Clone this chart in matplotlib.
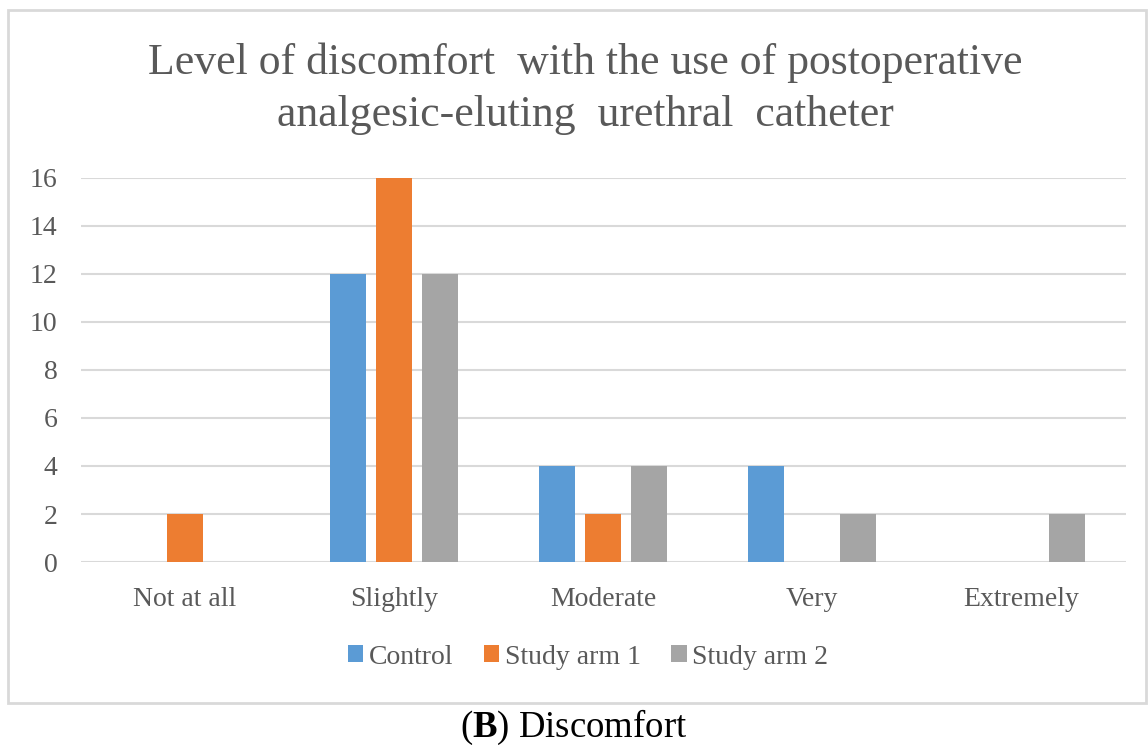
import matplotlib
matplotlib.use("Agg")
import matplotlib.pyplot as plt
from matplotlib.patches import Rectangle
import numpy as np

categories = ["Not at all", "Slightly", "Moderate", "Very", "Extremely"]
series_names = ["Control", "Study arm 1", "Study arm 2"]
control = [0, 12, 4, 4, 0]
arm1 = [2, 16, 2, 0, 0]
arm2 = [0, 12, 4, 2, 2]
yticks = [0, 2, 4, 6, 8, 10, 12, 14, 16]
colors = ["#5B9BD5", "#ED7D31", "#A5A5A5"]

plt.rcParams['font.family'] = ['Liberation Serif', 'DejaVu Serif']
plt.rcParams['mathtext.fontset'] = 'custom'
plt.rcParams['mathtext.rm'] = 'Liberation Serif'
plt.rcParams['mathtext.bf'] = 'Liberation Serif:bold'
W, H = 1148, 745
fig = plt.figure(figsize=(W/100, H/100), dpi=100)

# outer border
fig.patches.append(Rectangle((8/W, 1-703/H), (1146-8)/W, (703-10)/H,
                             transform=fig.transFigure, fill=False,
                             edgecolor="#D9D9D9", linewidth=2))

ax = fig.add_axes([80.5/W, 1-562/H, (1125.5-80.5)/W, (562-178)/H])
x = np.arange(len(categories))
bw = 0.172
off = 0.222
for i, (vals, name) in enumerate(zip([control, arm1, arm2], series_names)):
    ax.bar(x + (i-1)*off, vals, width=bw, color=colors[i], label=name, zorder=3)

ax.set_xlim(-0.5, len(categories)-0.5)
ax.set_ylim(0, 16)
ax.set_yticks(yticks)
ax.set_xticks(x)
ax.set_xticklabels(categories)
ax.grid(axis='y', color="#D9D9D9", linewidth=1.5, zorder=0)
for s in ax.spines.values():
    s.set_visible(False)
ax.tick_params(axis='both', length=0, labelsize=20, colors="#595959")
ax.tick_params(axis='y', pad=16.5)
ax.tick_params(axis='x', pad=18)

fig.text(585/W, 1-89/H, "Level of discomfort  with the use of postoperative\nanalgesic-eluting  urethral  catheter",
         ha='center', va='center', fontsize=31.5, color="#595959", linespacing=1.38)

leg = ax.legend(loc='center', bbox_to_anchor=(588/W, 1-657/H), bbox_transform=fig.transFigure,
                ncol=3, frameon=False, fontsize=20, handlelength=0.55, handleheight=0.55,
                handletextpad=0.2, columnspacing=1.1)
for t in leg.get_texts():
    t.set_color("#595959")

fig.text(574/W, 1-727/H, r"($\mathbf{B}$) Discomfort", ha='center', va='center', fontsize=26.5, color="black")

fig.savefig("out.png", dpi=100)
